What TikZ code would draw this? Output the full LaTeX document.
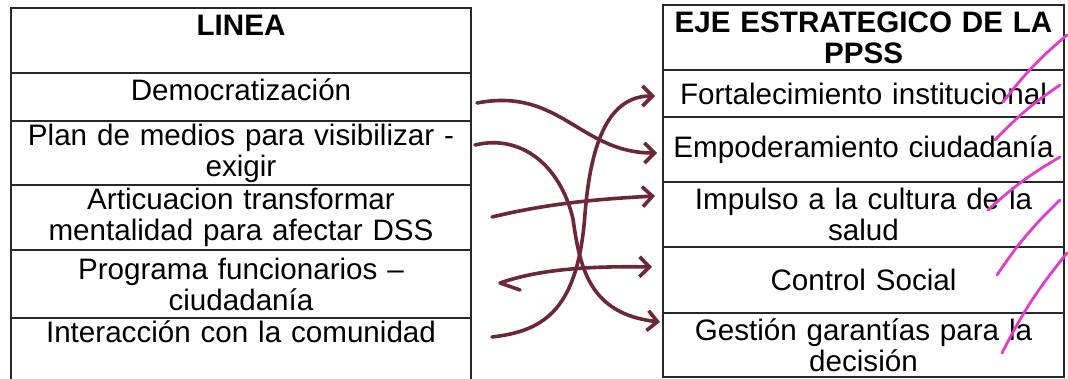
\documentclass[tikz,border=0pt]{standalone}
\usepackage{fontspec}
\setmainfont{Liberation Sans}
\usetikzlibrary{positioning,arrows.meta}
\definecolor{pen}{RGB}{108,40,55}
\definecolor{check}{RGB}{226,60,200}
\definecolor{rule}{RGB}{40,40,40}

\begin{document}
\begin{tikzpicture}[x=1pt,y=1pt,
    cell/.style={draw=rule, line width=1.6pt, inner sep=0pt, outer sep=0pt,
      align=center, font=\fontsize{29.6}{31}\selectfont},
    headfont/.style={font=\bfseries\fontsize{29.6}{31}\selectfont},
    linecell/.style={cell, minimum width=460pt, text width=450pt},
    ejecell/.style={cell, minimum width=401pt, text width=395pt},
    link/.style={pen, line width=3.6pt, line cap=round, line join=round,
      -{Straight Barb[length=10pt,width=20pt]}},
    tick/.style={check, line width=2.8pt, line cap=round}]

    \useasboundingbox (0,0) rectangle (1068,379);
    \fill[white] (0,0) rectangle (1068,379);

    % Left table
    \node[linecell, headfont, anchor=north west, minimum height=65pt,
      text height=28pt, text depth=37pt] (linea) at (11,371) {LINEA};
    \node[linecell, below=0pt of linea, minimum height=48pt,
      text height=28pt, text depth=20pt] (democ) {Democratización};
    \node[linecell, below=0pt of democ, minimum height=64pt] (medios)
      {Plan de medios para visibilizar -\\exigir};
    \node[linecell, below=0pt of medios, minimum height=65pt] (articula)
      {Articuacion transformar\\mentalidad para afectar DSS};
    \node[linecell, below=0pt of articula, minimum height=68pt] (programa)
      {Programa funcionarios –\\ciudadanía};
    \node[linecell, below=0pt of programa, minimum height=67pt,
      text height=25pt, text depth=42pt] (interac) {Interacción con la comunidad};

    % Right table
    \node[ejecell, headfont, anchor=north west, minimum height=65pt] (eje)
      at (663,374) {EJE ESTRATEGICO DE LA\\PPSS};
    \node[ejecell, below=0pt of eje, minimum height=47pt] (fortal)
      {Fortalecimiento institucional};
    \node[ejecell, below=0pt of fortal, minimum height=65pt] (empod)
      {Empoderamiento ciudadanía};
    \node[ejecell, below=0pt of empod, minimum height=65pt] (impulso)
      {Impulso a la cultura de la\\salud};
    \node[ejecell, below=0pt of impulso, minimum height=66pt] (control)
      {Control Social};
    \node[ejecell, below=0pt of control, minimum height=64pt] (gestion)
      {Gestión garantías para la\\decisión};

    % Hand drawn arrows
    \draw[link] ([xshift=6pt,yshift=-6pt]democ.east)
      .. controls (560,292) and (580,226) .. ([xshift=-6pt,yshift=-3.5pt]empod.west);
    \draw[link] ([xshift=21pt,yshift=14.5pt]interac.east)
      .. controls (545,48) and (578,70) .. (585,165)
      .. controls (591,240) and (610,283) .. ([xshift=-8pt,yshift=-2.5pt]fortal.west);
    \draw[link] ([xshift=4pt,yshift=8pt]medios.east)
      .. controls (520,245) and (560,215) .. (573,160)
      .. controls (580,110) and (590,65) .. ([xshift=-3pt,yshift=23pt]gestion.west);
    \draw[link] ([xshift=21pt,yshift=0.5pt]articula.east)
      .. controls (550,176) and (600,180) .. ([xshift=-8pt,yshift=18.5pt]impulso.west);
    \draw[link] ([xshift=49pt,yshift=-6pt]programa.east) -- (500,96)
      .. controls (540,110) and (590,113) .. ([xshift=-11pt,yshift=13pt]control.west);

    % Check marks
    \foreach \ax/\ay/\bx/\by in {1003/277/1067/344, 995/239/1060/294,
        988/169/1060/222, 997/104/1060/179, 1002/26/1067/126}
      \draw[tick] (\ax,\ay) to[bend left=6] (\bx,\by);
\end{tikzpicture}
\end{document}
